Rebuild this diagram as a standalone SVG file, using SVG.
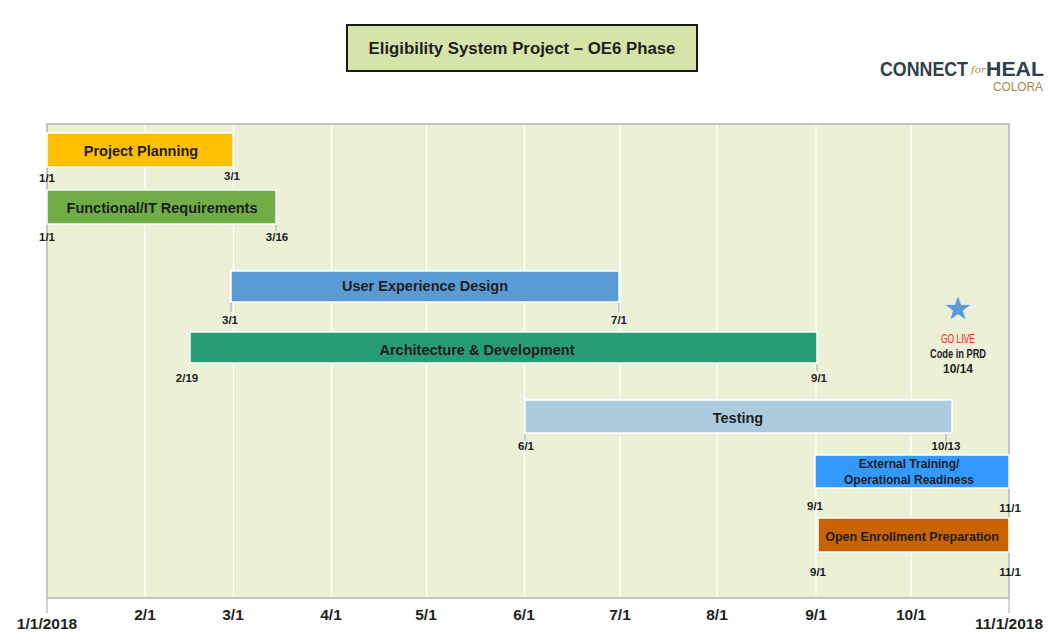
<svg xmlns="http://www.w3.org/2000/svg" width="1048" height="633" viewBox="0 0 1048 633">
<style>
text{font-family:"Liberation Sans",Arial,sans-serif;font-weight:bold;fill:#1e1e1e}
.bar{stroke:#ffffff;stroke-width:1.5}
.bl{font-size:14.5px;text-anchor:middle}
.dl{font-size:11.5px;text-anchor:middle}
.ax{font-size:15.5px;text-anchor:middle}
.grid{stroke:#ffffff;stroke-width:1.3}
.tick{stroke:#a6a6a6;stroke-width:1}
</style>
<rect width="1048" height="633" fill="#ffffff"/>
<g id="title">
<rect x="347" y="25" width="350" height="46" fill="#d7e4a9" stroke="#1a1a1a" stroke-width="2"/>
<text x="522" y="54" font-size="16.8" text-anchor="middle">Eligibility System Project – OE6 Phase</text>
</g>
<g id="logo">
<text y="76" font-size="21" style="fill:#2f3e48"><tspan x="880" textLength="88" lengthAdjust="spacingAndGlyphs">CONNECT</tspan><tspan x="971" y="73" font-size="10" style="fill:#a08c4a;font-style:italic;font-weight:normal;font-family:'DejaVu Serif',serif">for</tspan><tspan x="986" y="76" textLength="58" lengthAdjust="spacingAndGlyphs">HEAL</tspan></text>
<text x="993" y="91" font-size="12.5" textLength="50" lengthAdjust="spacingAndGlyphs" style="fill:#a08c4a;font-weight:normal">COLORA</text>
</g>
<g id="plot">
<rect x="47" y="124" width="962" height="474" fill="#ebf0d7" stroke="#a6a6a6" stroke-width="1.2"/>
<line class="grid" x1="145" y1="125" x2="145" y2="597"/>
<line class="grid" x1="233.5" y1="125" x2="233.5" y2="597"/>
<line class="grid" x1="331.5" y1="125" x2="331.5" y2="597"/>
<line class="grid" x1="426.5" y1="125" x2="426.5" y2="597"/>
<line class="grid" x1="524.5" y1="125" x2="524.5" y2="597"/>
<line class="grid" x1="620" y1="125" x2="620" y2="597"/>
<line class="grid" x1="717" y1="125" x2="717" y2="597"/>
<line class="grid" x1="816" y1="125" x2="816" y2="597"/>
<line class="grid" x1="911" y1="125" x2="911" y2="597"/>
<line class="tick" x1="47" y1="598" x2="47" y2="613"/>
<line class="tick" x1="1009" y1="598" x2="1009" y2="613"/>
</g>
<g id="axis-labels">
<text class="ax" x="47" y="629">1/1/2018</text>
<text class="ax" x="145" y="620">2/1</text>
<text class="ax" x="233" y="620">3/1</text>
<text class="ax" x="331" y="620">4/1</text>
<text class="ax" x="426" y="620">5/1</text>
<text class="ax" x="524" y="620">6/1</text>
<text class="ax" x="620" y="620">7/1</text>
<text class="ax" x="717" y="620">8/1</text>
<text class="ax" x="816" y="620">9/1</text>
<text class="ax" x="911" y="620">10/1</text>
<text class="ax" x="1009" y="629">11/1/2018</text>
</g>
<g id="project-planning">
<rect class="bar" x="47" y="133" width="186" height="34" fill="#ffc000"/>
<text class="bl" x="141" y="156">Project Planning</text>
<text class="dl" x="47" y="182">1/1</text>
<text class="dl" x="232" y="180">3/1</text>
</g>
<g id="functional-it-requirements">
<rect class="bar" x="47" y="190" width="229" height="34" fill="#70ad47"/>
<text class="bl" x="162" y="213">Functional/IT Requirements</text>
<line class="tick" x1="276" y1="225" x2="276" y2="231"/>
<text class="dl" x="47" y="241">1/1</text>
<text class="dl" x="277" y="241">3/16</text>
</g>
<g id="user-experience-design">
<rect class="bar" x="231" y="271" width="388" height="31" fill="#5b9bd5"/>
<text class="bl" x="425" y="291">User Experience Design</text>
<line class="tick" x1="231" y1="303" x2="231" y2="312"/>
<line class="tick" x1="619" y1="303" x2="619" y2="312"/>
<text class="dl" x="230" y="324">3/1</text>
<text class="dl" x="619" y="324">7/1</text>
</g>
<g id="architecture-development">
<rect class="bar" x="190" y="332" width="627" height="31" fill="#279c76"/>
<text class="bl" x="477" y="355">Architecture &amp; Development</text>
<line class="tick" x1="817" y1="364" x2="817" y2="371"/>
<text class="dl" x="187" y="382">2/19</text>
<text class="dl" x="819" y="382">9/1</text>
</g>
<g id="testing">
<rect class="bar" x="525" y="400" width="427" height="33" fill="#adcbdf"/>
<text class="bl" x="738" y="423">Testing</text>
<line class="tick" x1="525" y1="434" x2="525" y2="441"/>
<line class="tick" x1="946" y1="434" x2="946" y2="441"/>
<text class="dl" x="526" y="450">6/1</text>
<text class="dl" x="946" y="450">10/13</text>
</g>
<g id="go-live">
<polygon points="958,295 961.3,304.5 971.3,304.7 963.3,310.7 966.2,320.3 958,314.6 949.8,320.3 952.7,310.7 944.7,304.7 954.7,304.5" fill="#5b9bd5" stroke="#dde8f3" stroke-width="1"/>
<text class="dl" x="958" y="343" textLength="34" lengthAdjust="spacingAndGlyphs" style="fill:#ff2020;font-weight:normal;font-size:12.5px">GO LIVE</text>
<text class="dl" x="958" y="358" textLength="56" lengthAdjust="spacingAndGlyphs" style="font-size:12px">Code in PRD</text>
<text class="dl" x="958" y="373" style="font-size:12px">10/14</text>
</g>
<g id="external-training">
<rect class="bar" x="815" y="455" width="194" height="33" fill="#3399ff"/>
<text class="dl" x="909" y="468" style="font-size:12px">External Training/</text>
<text class="dl" x="909" y="484" style="font-size:12px">Operational Readiness</text>
<text class="dl" x="815" y="510">9/1</text>
<text class="dl" x="1010" y="512">11/1</text>
</g>
<g id="open-enrollment-preparation">
<rect class="bar" x="818" y="518" width="191" height="34" fill="#c96300"/>
<text class="dl" x="912" y="541" style="font-size:12.5px">Open Enrollment Preparation</text>
<text class="dl" x="818" y="576">9/1</text>
<text class="dl" x="1010" y="576">11/1</text>
</g>
</svg>
